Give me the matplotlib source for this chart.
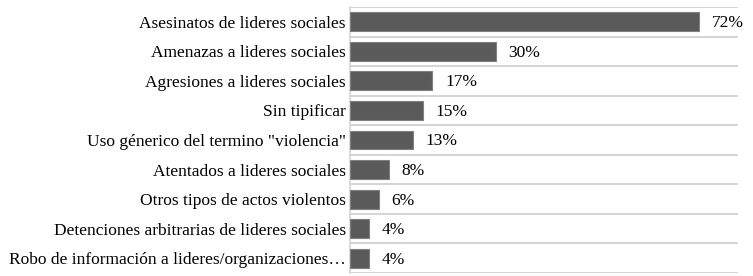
import matplotlib
matplotlib.use("Agg")
import matplotlib.pyplot as plt
import numpy as np

categories = [
    "Asesinatos de lideres sociales",
    "Amenazas a lideres sociales",
    "Agresiones a lideres sociales",
    "Sin tipificar",
    "Uso génerico del termino \"violencia\"",
    "Atentados a lideres sociales",
    "Otros tipos de actos violentos",
    "Detenciones arbitrarias de lideres sociales",
    "Robo de información a lideres/organizaciones…",
]
values = [72, 30, 17, 15, 13, 8, 6, 4, 4]
value_labels = ["72%", "30%", "17%", "15%", "13%", "8%", "6%", "4%", "4%"]

plt.rcParams['font.family'] = ['Liberation Serif', 'DejaVu Serif']

fig = plt.figure(figsize=(7.53, 2.76), dpi=100)
ax = fig.add_axes([350/753, 1 - 273/276, (738 - 350)/753, (273 - 7)/276])

y = np.arange(len(categories))
ax.barh(y, values, height=0.64, color="#5a5a5a", edgecolor="#808080", linewidth=0.8, zorder=3)

for yi, v, lab in zip(y, values, value_labels):
    ax.text(v + 2.6, yi + 0.05, lab, va="center", ha="left", fontsize=12.5, color="#000000")

ax.set_yticks(y)
ax.set_yticklabels(categories, fontsize=12.5, color="#000000")
ax.set_ylim(len(categories) - 0.5, -0.5)
ax.set_xlim(0, 80)

ax.set_yticks(np.arange(len(categories) + 1) - 0.5, minor=True)
ax.grid(True, which="minor", axis="y", color="#d4d4d4", linewidth=1.4, zorder=0)
ax.grid(False, which="major")
ax.tick_params(axis="y", which="both", length=0, pad=3)
ax.tick_params(axis="x", which="both", length=0, labelbottom=False)

for s in ["top", "right", "bottom"]:
    ax.spines[s].set_visible(False)
ax.spines["left"].set_color("#d4d4d4")
ax.spines["left"].set_linewidth(1.2)

fig.savefig("out.png", dpi=100)
